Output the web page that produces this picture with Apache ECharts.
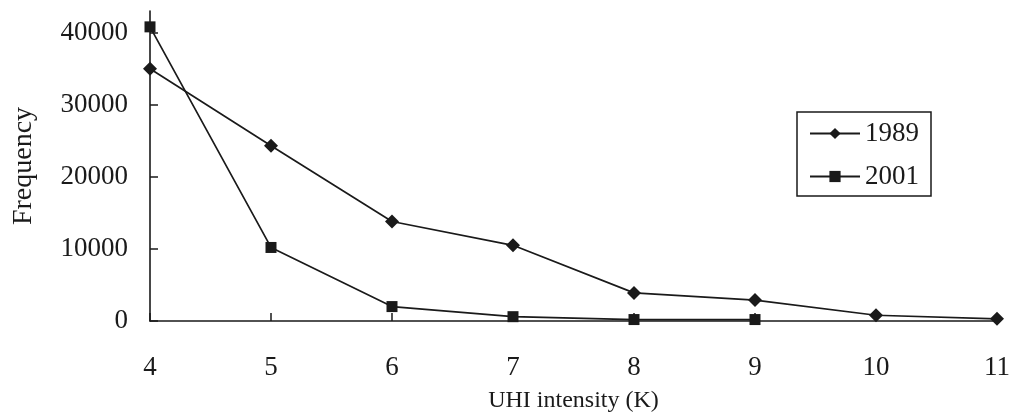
<!DOCTYPE html>
<html>
<head>
<meta charset="utf-8">
<script src="https://cdn.jsdelivr.net/npm/echarts@6/dist/echarts.min.js"></script>
<style>
html, body { margin: 0; padding: 0; background: #fff; }
#main { width: 1013px; height: 420px; }
</style>
</head>
<body>
<div id="main"></div>
<script>
// UHI intensity categories (K)
var categories = ['4', '5', '6', '7', '8', '9', '10', '11'];
var freq1989 = [35000, 24300, 13800, 10500, 3900, 2900, 800, 300];
var freq2001 = [40800, 10200, 2000, 600, 200, 200];
var yTicks = [0, 10000, 20000, 30000, 40000];

var ink = '#1a1a1a';
var serif = '"Liberation Serif", "Times New Roman", serif';

var chart = echarts.init(document.getElementById('main'));
chart.setOption({
	backgroundColor: '#fff',
	animation: false,
	textStyle: { fontFamily: serif, color: ink },
	grid: { left: 150, right: 9, top: 11, bottom: 99 },
	legend: {
		right: 82, top: 112,
		orient: 'vertical',
		itemWidth: 50, itemHeight: 14, itemGap: 16,
		borderColor: ink, borderWidth: 1.5,
		padding: [8, 12, 6, 12],
		textStyle: { fontFamily: serif, fontSize: 27, color: ink },
		data: ['1989', '2001']
	},
	xAxis: {
		type: 'category',
		data: categories,
		boundaryGap: false,
		name: 'UHI intensity (K)',
		nameLocation: 'middle',
		nameGap: 68,
		nameTextStyle: { fontFamily: serif, fontSize: 24, color: ink },
		axisLine: { lineStyle: { color: ink, width: 1.6 } },
		axisTick: { inside: true, length: 8, lineStyle: { color: ink, width: 1.5 } },
		axisLabel: { margin: 33, fontSize: 27, color: ink, fontFamily: serif },
		splitLine: { show: false }
	},
	yAxis: {
		type: 'value',
		min: 0, max: 43000, interval: 10000,
		name: 'Frequency',
		nameLocation: 'middle',
		nameGap: 112,
		nameTextStyle: { fontFamily: serif, fontSize: 28, color: ink },
		axisLine: { show: true, lineStyle: { color: ink, width: 1.6 } },
		axisTick: { show: true, inside: true, length: 8, customValues: yTicks, lineStyle: { color: ink, width: 1.5 } },
		axisLabel: {
			margin: 22, fontSize: 27, color: ink, fontFamily: serif, customValues: yTicks,
			formatter: function(val) { return String(val); }
		},
		splitLine: { show: false }
	},
	series: [{
		name: '1989',
		type: 'line',
		data: freq1989,
		symbol: 'diamond',
		symbolSize: 14,
		itemStyle: { color: ink },
		lineStyle: { color: ink, width: 1.7 }
	}, {
		name: '2001',
		type: 'line',
		data: freq2001,
		symbol: 'rect',
		symbolSize: 11,
		itemStyle: { color: ink },
		lineStyle: { color: ink, width: 1.7 }
	}]
});
</script>
</body>
</html>
